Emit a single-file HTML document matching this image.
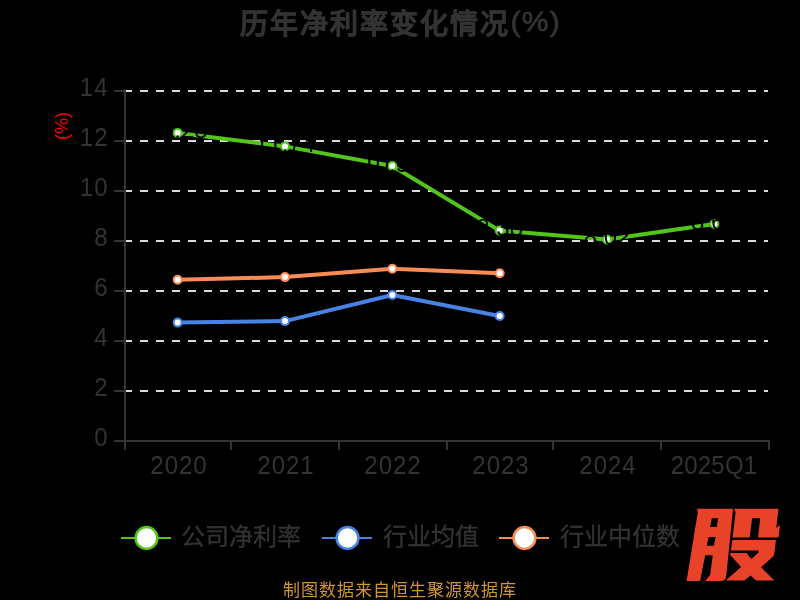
<!DOCTYPE html>
<html lang="zh-CN">
<head>
<meta charset="utf-8">
<style>
html,body{margin:0;padding:0;background:#000;}
body{width:800px;height:600px;overflow:hidden;position:relative;font-family:"Liberation Sans",sans-serif;}
svg{position:absolute;left:0;top:0;display:block;}
svg text{font-family:"Liberation Sans",sans-serif;}
.lab{will-change:transform;}
.tx{position:absolute;white-space:nowrap;font-family:"Liberation Sans",sans-serif;will-change:transform;}
.title{left:240px;top:4.7px;font-size:28px;letter-spacing:2px;line-height:40px;font-weight:bold;color:#333333;-webkit-text-stroke:0.5px #333333;}
.title span{position:absolute;left:270.4px;top:-3px;font-size:30px;letter-spacing:1.3px;transform-origin:0 10px;transform:scaleY(0.95);font-weight:normal;-webkit-text-stroke:0.8px #333333;}
.yname{left:47.5px;top:114px;width:28px;height:24px;text-align:center;font-size:18px;line-height:24px;color:#f00;transform:rotate(-90deg);}
.ylab{left:0;width:108.5px;text-align:right;font-size:24px;line-height:24px;letter-spacing:1px;color:#333333;transform-origin:50% 11.7px;transform:scaleY(1.1);}
.xlab{top:453.1px;width:100px;text-align:center;font-size:24px;line-height:24px;letter-spacing:1px;color:#333333;transform-origin:50% 11.7px;transform:scaleY(1.1);}
.leg{top:523px;font-size:24px;line-height:28px;color:#333333;-webkit-text-stroke:0.35px #333333;}
.foot{left:283px;top:580px;font-size:17px;letter-spacing:1px;line-height:22px;color:#d09630;}
</style>
</head>
<body>
<svg width="800" height="600" viewBox="0 0 800 600">
<rect x="0" y="0" width="800" height="600" fill="#000"/>
<!-- grid lines (dashed) -->
<g stroke="#dcdcdc" stroke-width="2" stroke-dasharray="8 8" fill="none">
<line x1="124" y1="91" x2="768" y2="91"/>
<line x1="124" y1="141" x2="768" y2="141"/>
<line x1="124" y1="191" x2="768" y2="191"/>
<line x1="124" y1="241" x2="768" y2="241"/>
<line x1="124" y1="291" x2="768" y2="291"/>
<line x1="124" y1="341" x2="768" y2="341"/>
<line x1="124" y1="391" x2="768" y2="391"/>
</g>
<!-- axes -->
<g fill="#333333">
<rect x="124" y="89" width="2" height="353"/>
<rect x="124" y="440" width="646" height="2"/>
<rect x="114" y="90" width="10" height="2"/>
<rect x="114" y="140" width="10" height="2"/>
<rect x="114" y="190" width="10" height="2"/>
<rect x="114" y="240" width="10" height="2"/>
<rect x="114" y="290" width="10" height="2"/>
<rect x="114" y="340" width="10" height="2"/>
<rect x="114" y="390" width="10" height="2"/>
<rect x="114" y="440" width="10" height="2"/>
<rect x="124" y="442" width="2" height="8"/>
<rect x="230" y="442" width="2" height="8"/>
<rect x="338" y="442" width="2" height="8"/>
<rect x="446" y="442" width="2" height="8"/>
<rect x="552" y="442" width="2" height="8"/>
<rect x="660" y="442" width="2" height="8"/>
<rect x="768" y="442" width="2" height="8"/>
</g>
<!-- series -->
<g fill="none" stroke-width="4" stroke-linejoin="round" stroke-linecap="round">
<polyline stroke="#f98c55" points="177.67,279.8 285,277.1 392.33,268.8 499.67,273.2"/>
<polyline stroke="#4782e4" points="177.67,322.6 285,321.1 392.33,295 499.67,316"/>
<polyline stroke="#52c41a" points="177.67,132.9 285,146.4 392.33,166 499.67,230.6 607,239.5 714.33,224"/>
</g>
<g fill="#fff" stroke-width="2">
<g stroke="#f98c55">
<circle cx="177.67" cy="279.8" r="4"/><circle cx="285" cy="277.1" r="4"/><circle cx="392.33" cy="268.8" r="4"/><circle cx="499.67" cy="273.2" r="4"/>
</g>
<g stroke="#4782e4">
<circle cx="177.67" cy="322.6" r="4"/><circle cx="285" cy="321.1" r="4"/><circle cx="392.33" cy="295" r="4"/><circle cx="499.67" cy="316" r="4"/>
</g>
<g stroke="#52c41a">
<circle cx="177.67" cy="132.9" r="4"/><circle cx="285" cy="146.4" r="4"/><circle cx="392.33" cy="166" r="4"/><circle cx="499.67" cy="230.6" r="4"/><circle cx="607" cy="239.5" r="4"/><circle cx="714.33" cy="224" r="4"/>
</g>
</g>
<!-- legend -->
<g stroke-width="2">
<line x1="121" y1="538" x2="171" y2="538" stroke="#52c41a"/>
<circle cx="146.5" cy="538" r="10.9" fill="#fff" stroke="#52c41a" stroke-width="2.5"/>
<line x1="322" y1="538" x2="372" y2="538" stroke="#4782e4"/>
<circle cx="347.5" cy="538" r="10.9" fill="#fff" stroke="#4782e4" stroke-width="2.5"/>
<line x1="499" y1="538" x2="549" y2="538" stroke="#f98c55"/>
<circle cx="524.5" cy="538" r="10.9" fill="#fff" stroke="#f98c55" stroke-width="2.5"/>
</g>
<!-- logo 股 -->
<g fill="#e84328" fill-rule="evenodd">
<path d="M697,508.7 L733,508.7 L729.4,545 L726.3,575.5 Q725.6,580.9 721.5,580.9 L705.4,580.9 L710.3,574.5 L712.7,555.3 L705.2,555.3 L700.1,580.9 L686.6,580.9 L697.8,512 Z
M711.8,518.3 L718.1,518.3 L716.8,527 L710.2,527 Z
M708.5,537 L715.6,537 L713.9,545.7 L706.8,545.7 Z"/>
<path d="M734,508.8 L778.4,508.8 L776.3,528.1 L780.1,525.3 L778.4,537.5 L758.1,537.5 L760.2,518.3 L752.1,518.3 L749.7,537.5 L732.5,537.5 L735.6,512 Z"/>
<path d="M732.3,540 L776,540 L774,555.4 L761.1,567.3 L774.4,580.6 L756.2,580.6 L750.6,575.4 L744.3,580.6 L725.7,580.6 L741.1,567 L730.3,555 L730.3,553 L746.4,553 L751.3,559 L758.6,552.6 L758.6,550.5 L731,550.5 Z"/>
</g>
</svg>
<!-- green series value labels (black text over the line) -->
<svg class="lab" width="800" height="600" viewBox="0 0 800 600">
<g font-size="24" fill="#000" text-anchor="middle" style="font-kerning:none">
<text x="177.67" y="138.4">12.28</text>
<text x="285" y="151.9">11.74</text>
<text x="392.33" y="171.5">10.96</text>
<text x="499.67" y="236.1">8.38</text>
<text x="607" y="245">8.02</text>
<text x="714.33" y="229.5">8.64</text>
</g>
</svg>
<div class="tx title">历年净利率变化情况<span>(%)</span></div>
<div class="tx yname">(%)</div>
<div class="tx ylab" style="top:74.9px">14</div>
<div class="tx ylab" style="top:124.9px">12</div>
<div class="tx ylab" style="top:174.9px">10</div>
<div class="tx ylab" style="top:224.9px">8</div>
<div class="tx ylab" style="top:274.9px">6</div>
<div class="tx ylab" style="top:324.9px">4</div>
<div class="tx ylab" style="top:374.9px">2</div>
<div class="tx ylab" style="top:424.9px">0</div>
<div class="tx xlab" style="left:128.67px">2020</div>
<div class="tx xlab" style="left:236px">2021</div>
<div class="tx xlab" style="left:343.33px">2022</div>
<div class="tx xlab" style="left:450.67px">2023</div>
<div class="tx xlab" style="left:558px">2024</div>
<div class="tx xlab" style="left:663.5px;letter-spacing:0.2px">2025Q1</div>
<div class="tx leg" style="left:181.3px">公司净利率</div>
<div class="tx leg" style="left:382.5px">行业均值</div>
<div class="tx leg" style="left:559.5px">行业中位数</div>
<div class="tx foot">制图数据来自恒生聚源数据库</div>
</body>
</html>
